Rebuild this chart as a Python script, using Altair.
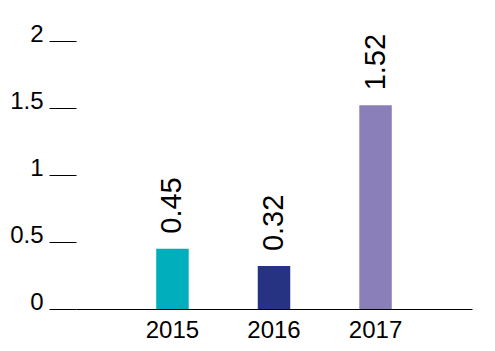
import altair as alt
import pandas as pd

years = ["2015", "2016", "2017"]
values = [0.45, 0.32, 1.52]
labels = ["0.45", "0.32", "1.52"]
colors = ["#00AFBB", "#263382", "#8A7FB8"]

df = pd.DataFrame({"year": years, "value": values, "label": labels, "color": colors})

FONT = "Liberation Sans"

x = alt.X(
    "year:N",
    sort=years,
    title=None,
    scale=alt.Scale(paddingInner=0.68, paddingOuter=0.79),
    axis=alt.Axis(
        labelAngle=0,
        labelFontSize=24,
        labelFont=FONT,
        labelColor="black",
        labelPadding=9,
        ticks=False,
        domainColor="black",
        domainWidth=1.2,
    ),
)
y = alt.Y(
    "value:Q",
    title=None,
    scale=alt.Scale(domain=[0, 2], nice=False),
    axis=alt.Axis(
        values=[0, 0.5, 1, 1.5, 2],
        labelFontSize=24,
        labelFont=FONT,
        labelColor="black",
        labelBaseline="alphabetic",
        labelPadding=6,
        tickSize=27,
        tickColor="black",
        tickWidth=1,
        domain=False,
        grid=False,
        labelExpr="datum.value == 0 ? '0' : format(datum.value, '~g')",
    ),
)

bars = alt.Chart(df).mark_bar().encode(
    x=x, y=y, color=alt.Color("color:N", scale=None)
)

text = alt.Chart(df).mark_text(
    angle=270, align="left", baseline="middle", dx=15, fontSize=29, font=FONT, color="black"
).encode(x=alt.X("year:N", sort=years), y="value:Q", text="label:N")

chart = (
    alt.layer(bars, text)
    .properties(
        width=396,
        height=268,
        background="white",
        autosize=alt.AutoSizeParams(type="none"),
        padding={"left": 76, "top": 41, "right": 23, "bottom": 42},
    )
    .configure_view(strokeWidth=0, stroke=None)
)

chart.save("out.html", embed_options={"renderer": "svg", "actions": False})
